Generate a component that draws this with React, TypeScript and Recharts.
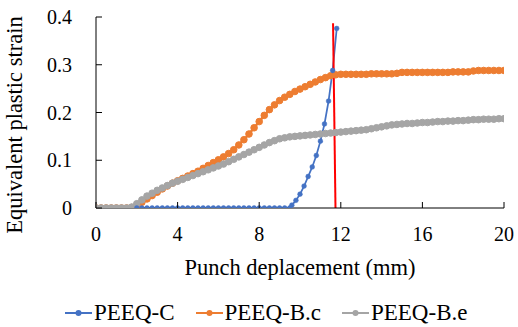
import { LineChart, Line, XAxis, YAxis, Legend } from 'recharts';

// Punch displacement (mm) sampled for the B.c / B.e curves
const DISP_B = [
  0, 0.25, 0.5, 0.75, 1, 1.25, 1.5, 1.75, 2, 2.25, 2.5, 2.75, 3, 3.25, 3.5, 3.75,
  4, 4.25, 4.5, 4.75, 5, 5.25, 5.5, 5.75, 6, 6.25, 6.5, 6.75, 7, 7.25, 7.5, 7.75,
  8, 8.25, 8.5, 8.75, 9, 9.25, 9.5, 9.75, 10, 10.25, 10.5, 10.75, 11, 11.25, 11.5, 11.75,
  12, 12.25, 12.5, 12.75, 13, 13.25, 13.5, 13.75, 14, 14.25, 14.5, 14.75, 15, 15.25, 15.5, 15.75,
  16, 16.25, 16.5, 16.75, 17, 17.25, 17.5, 17.75, 18, 18.25, 18.5, 18.75, 19, 19.25, 19.5, 19.75, 20,
];

const PEEQ_BC = [
  0, 0, 0, 0, 0, 0, 0, 0.001, 0.005, 0.012, 0.019, 0.026, 0.033, 0.04, 0.046, 0.052,
  0.057, 0.062, 0.067, 0.072, 0.077, 0.083, 0.089, 0.095, 0.101, 0.107, 0.114, 0.122, 0.132, 0.143, 0.155, 0.168,
  0.181, 0.194, 0.206, 0.216, 0.225, 0.232, 0.238, 0.244, 0.249, 0.254, 0.259, 0.264, 0.269, 0.273, 0.277, 0.279,
  0.28, 0.28, 0.28, 0.28, 0.28, 0.28, 0.281, 0.281, 0.281, 0.281, 0.281, 0.282, 0.284, 0.284, 0.284, 0.284,
  0.284, 0.284, 0.284, 0.284, 0.284, 0.284, 0.285, 0.285, 0.285, 0.285, 0.287, 0.288, 0.288, 0.288, 0.288, 0.288, 0.288,
];

const PEEQ_BE = [
  0, 0, 0, 0, 0, 0, 0, 0.002, 0.009, 0.017, 0.025, 0.031, 0.037, 0.042, 0.047, 0.052,
  0.056, 0.06, 0.064, 0.068, 0.072, 0.076, 0.08, 0.084, 0.088, 0.092, 0.097, 0.102, 0.107, 0.112, 0.117, 0.122,
  0.127, 0.132, 0.137, 0.141, 0.145, 0.147, 0.149, 0.15, 0.151, 0.152, 0.153, 0.154, 0.155, 0.156, 0.157, 0.158,
  0.159, 0.16, 0.161, 0.162, 0.163, 0.164, 0.166, 0.168, 0.17, 0.172, 0.174, 0.175, 0.176, 0.177, 0.177, 0.178,
  0.179, 0.179, 0.18, 0.181, 0.181, 0.182, 0.182, 0.183, 0.183, 0.184, 0.185, 0.185, 0.186, 0.186, 0.186, 0.187, 0.187,
];

// PEEQ-C curve
const DISP_C = [
  2, 2.25, 2.5, 2.75, 3, 3.25, 3.5, 3.75, 4, 4.25, 4.5, 4.75, 5, 5.25, 5.5, 5.75,
  6, 6.25, 6.5, 6.75, 7, 7.25, 7.5, 7.75, 8, 8.25, 8.5, 8.75, 9, 9.25, 9.5,
  9.6, 9.8, 10, 10.2, 10.4, 10.6, 10.8, 11, 11.2, 11.4, 11.6, 11.8,
];
const PEEQ_C = [
  0, 0, 0, 0, 0, 0, 0, 0, 0, 0, 0, 0, 0, 0, 0, 0,
  0, 0, 0, 0, 0, 0, 0, 0, 0, 0, 0, 0, 0, 0, 0,
  0.006, 0.016, 0.029, 0.046, 0.066, 0.086, 0.11, 0.14, 0.176, 0.224, 0.288, 0.376,
];

// red marker line
const MARK_X = [11.62, 11.74];
const MARK_Y = [0.387, 0];

const X_TICKS = [0, 4, 8, 12, 16, 20];
const Y_TICKS = [0, 0.1, 0.2, 0.3, 0.4];

const SERIES = [
  { name: 'PEEQ-C', color: '#4472C4' },
  { name: 'PEEQ-B.c', color: '#ED7D31' },
  { name: 'PEEQ-B.e', color: '#A5A5A5' },
];

const FONT = '"Liberation Serif", "Times New Roman", serif';
const textStyle = { fontFamily: FONT };

const zip = (xs: number[], ys: number[]) => xs.map((x, i) => ({ x, y: ys[i] }));

function XTick({ x, y, payload }: any) {
  return (
    <g>
      <line x1={x} x2={x} y1={y} y2={y - 6} stroke="#000" />
      <text x={x} y={y + 26} textAnchor="middle" dominantBaseline="central" style={textStyle} fontSize={20} fill="#000">
        {payload.value}
      </text>
    </g>
  );
}

function YTick({ x, y, payload }: any) {
  return (
    <g>
      <line x1={x} x2={x + 6} y1={y} y2={y} stroke="#000" />
      <text x={x - 24} y={y} textAnchor="end" dominantBaseline="central" style={textStyle} fontSize={20} fill="#000">
        {payload.value === 0 ? '0' : payload.value.toFixed(1)}
      </text>
    </g>
  );
}

function LegendRow() {
  return (
    <div style={{ display: 'flex', alignItems: 'center', paddingLeft: 65, fontFamily: FONT, fontSize: 23, color: '#000', height: 30 }}>
      {SERIES.map((s) => (
        <div key={s.name} style={{ display: 'flex', alignItems: 'center', marginRight: 21 }}>
          <svg width={27} height={12}>
            <line x1={0} x2={27} y1={6} y2={6} stroke={s.color} strokeWidth={2} />
            <circle cx={13.5} cy={6} r={3} fill={s.color} />
          </svg>
          <span style={{ marginLeft: 2, whiteSpace: 'nowrap' }}>{s.name}</span>
        </div>
      ))}
    </div>
  );
}

export default function App() {
  const dataC = zip(DISP_C, PEEQ_C);
  const dataBc = zip(DISP_B, PEEQ_BC);
  const dataBe = zip(DISP_B, PEEQ_BE);
  const dataMark = zip(MARK_X, MARK_Y);

  return (
    <div style={{ position: 'absolute', left: 0, top: 0, width: 518, height: 327, background: '#fff' }}>
      <LineChart width={518} height={327} margin={{ top: 17, right: 14, left: 0, bottom: 19 }}>
        <XAxis
          type="number"
          dataKey="x"
          domain={[0, 20]}
          ticks={X_TICKS}
          height={70}
          tickSize={0}
          tickMargin={0}
          tickLine={false}
          tick={<XTick />}
          axisLine={{ stroke: '#000' }}
          allowDataOverflow
          label={{
            content: () => (
              <text x={300} y={267} textAnchor="middle" dominantBaseline="central" style={textStyle} fontSize={22.5} fill="#000">
                Punch deplacement (mm)
              </text>
            ),
          }}
        />
        <YAxis
          type="number"
          dataKey="y"
          domain={[0, 0.4]}
          ticks={Y_TICKS}
          width={96}
          tickSize={0}
          tickMargin={0}
          tickLine={false}
          tick={<YTick />}
          axisLine={{ stroke: '#000' }}
          allowDataOverflow
          label={{
            content: () => (
              <text x={14} y={125} transform="rotate(-90 14 125)" textAnchor="middle" dominantBaseline="central" style={textStyle} fontSize={22.5} fill="#000">
                Equivalent plastic strain
              </text>
            ),
          }}
        />
        <Line
          data={dataBc}
          dataKey="y"
          name="PEEQ-B.c"
          stroke="#ED7D31"
          strokeWidth={2.5}
          dot={{ r: 3.3, fill: '#ED7D31', stroke: '#ED7D31', strokeWidth: 1 }}
          isAnimationActive={false}
        />
        <Line
          data={dataBe}
          dataKey="y"
          name="PEEQ-B.e"
          stroke="#A5A5A5"
          strokeWidth={2.5}
          dot={{ r: 3.3, fill: '#A5A5A5', stroke: '#A5A5A5', strokeWidth: 1 }}
          isAnimationActive={false}
        />
        <Line
          data={dataC}
          dataKey="y"
          name="PEEQ-C"
          stroke="#4472C4"
          strokeWidth={1.75}
          dot={{ r: 2.4, fill: '#4472C4', stroke: '#4472C4', strokeWidth: 0.5 }}
          isAnimationActive={false}
        />
        <Line
          data={dataMark}
          dataKey="y"
          stroke="#FF0000"
          strokeWidth={2}
          dot={false}
          legendType="none"
          isAnimationActive={false}
        />
        <Legend
          verticalAlign="bottom"
          content={() => <LegendRow />}
          wrapperStyle={{ left: 0, width: 518, bottom: -1 }}
        />
      </LineChart>
    </div>
  );
}
